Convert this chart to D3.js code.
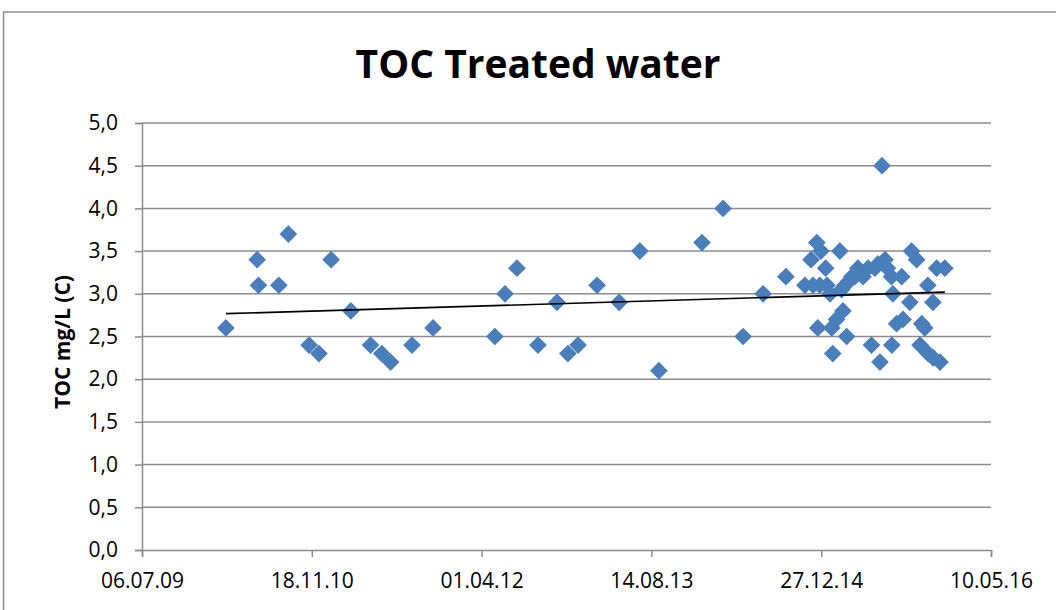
<!DOCTYPE html>
<html lang="en">
<head>
  <meta charset="utf-8">
  <script src="https://cdn.jsdelivr.net/npm/d3@7"></script>
  <style>
    body{margin:0;background:#fff;}
    text{font-family:"Open Sans","Noto Sans",sans-serif;}
  </style>
</head>
<body>
  <div id="chart"></div>
  <script>
    // sample dates and TOC values (mg/L)
    var dates=["2010-03-10","2010-06-10","2010-06-14","2010-08-13","2010-09-10","2010-11-10","2010-12-09","2011-01-14","2011-03-13","2011-05-10",
      "2011-06-12","2011-07-08","2011-09-09","2011-11-10","2012-05-10","2012-06-09","2012-07-14","2012-09-14","2012-11-09","2012-12-11",
      "2013-01-10","2013-03-07","2013-05-11","2013-07-11","2013-09-05","2014-01-10","2014-03-13","2014-05-11","2014-07-09","2014-09-14",
      "2014-11-09","2014-11-27","2014-12-14","2014-12-26","2014-12-03","2014-12-23","2015-01-13","2015-01-09","2014-12-17","2015-01-22",
      "2015-01-27","2015-01-30","2015-02-10","2015-02-20","2015-02-25","2015-03-01","2015-03-07","2015-03-12","2015-03-27","2015-04-14",
      "2015-04-05","2015-04-29","2015-05-14","2015-05-24","2015-06-03","2015-06-12","2015-06-18","2015-06-24","2015-07-03","2015-07-22",
      "2015-07-23","2015-07-26","2015-08-06","2015-08-21","2015-08-25","2015-09-14","2015-09-19","2015-10-04","2015-10-14","2015-10-19",
      "2015-10-28","2015-11-06","2015-11-07","2015-11-21","2015-11-22","2015-12-02","2015-12-12","2015-12-26","2015-03-19","2015-07-10"];
    var toc=[2.6,3.4,3.1,3.1,3.7,2.4,2.3,3.4,2.8,2.4,
      2.3,2.2,2.4,2.6,2.5,3.0,3.3,2.4,2.9,2.3,
      2.4,3.1,2.9,3.5,2.1,3.6,4.0,2.5,3.0,3.2,
      3.1,3.4,3.6,3.5,3.1,3.1,3.1,3.3,2.6,3.0,
      2.6,2.3,2.7,3.5,3.05,2.8,3.1,2.5,3.2,3.3,
      3.2,3.2,3.3,2.4,3.3,3.35,2.2,4.5,3.4,3.2,
      2.4,3.0,2.65,3.2,2.7,2.9,3.5,3.4,2.4,2.65,
      2.6,3.1,2.3,2.9,2.25,3.3,2.2,3.3,3.15,3.3];
    var xTicks=["2009-07-06","2010-11-18","2012-04-01","2013-08-14","2014-12-27","2016-05-10"];
    var yTicks=[0,0.5,1,1.5,2,2.5,3,3.5,4,4.5,5];

    var parse=d3.timeParse("%Y-%m-%d");
    var points=dates.map(function(d,i){return {date:parse(d),v:toc[i]};});

    var W=1056,H=610;
    var pLeft=142,pRight=991,pTop=123,pBottom=550;

    var svg=d3.select("#chart").append("svg").attr("width",W).attr("height",H);

    // chart frame
    svg.append("rect").attr("x",3.5).attr("y",12).attr("width",1070).attr("height",620)
      .attr("fill","none").attr("stroke","#8c8c8c").attr("stroke-width",1.5);

    var x=d3.scaleTime().domain([parse(xTicks[0]),parse(xTicks[5])]).range([pLeft,pRight]);
    var y=d3.scaleLinear().domain([0,5]).range([pBottom,pTop]);

    // gridlines
    svg.append("g").selectAll("line").data(yTicks.slice(1)).enter().append("line")
      .attr("x1",pLeft).attr("x2",pRight)
      .attr("y1",function(d){return y(d);}).attr("y2",function(d){return y(d);})
      .attr("stroke","#8c8c8c").attr("stroke-width",1.5);

    var fmt=function(d){return d3.format(".1f")(d).replace(".",",");};

    var yAxis=svg.append("g").attr("transform","translate("+pLeft+",0)")
      .call(d3.axisLeft(y).tickValues(yTicks).tickFormat(fmt).tickSize(7).tickPadding(17));
    var xAxis=svg.append("g").attr("transform","translate(0,"+pBottom+")")
      .call(d3.axisBottom(x).tickValues(xTicks.map(parse)).tickFormat(d3.timeFormat("%d.%m.%y")).tickSize(7).tickPadding(16));

    [yAxis,xAxis].forEach(function(a){
      a.selectAll("path,line").attr("stroke","#8c8c8c").attr("stroke-width",1.5);
      a.selectAll("text").attr("fill","#000");
    });
    yAxis.selectAll("text").style("font-size","21px");
    xAxis.selectAll("text")
      .style("font-family","'Liberation Sans Narrow','Open Sans',sans-serif")
      .style("font-size","21px");

    // markers
    var diamond=d3.symbol().type(d3.symbolDiamond2).size(200);
    svg.append("g").selectAll("path").data(points).enter().append("path")
      .attr("d",diamond)
      .attr("transform",function(d){return "translate("+x(d.date)+","+y(d.v)+")";})
      .attr("fill","#4a7ebb");

    // linear trendline
    var xs=points.map(function(d){return +d.date;});
    var mx=d3.mean(xs),my=d3.mean(toc);
    var sxy=d3.sum(points,function(d){return (+d.date-mx)*(d.v-my);});
    var sxx=d3.sum(xs,function(t){return (t-mx)*(t-mx);});
    var slope=sxy/sxx,icpt=my-slope*mx;
    var ext=d3.extent(xs);
    svg.append("line")
      .attr("x1",x(new Date(ext[0]))).attr("y1",y(icpt+slope*ext[0]))
      .attr("x2",x(new Date(ext[1]))).attr("y2",y(icpt+slope*ext[1]))
      .attr("stroke","#000").attr("stroke-width",1.6);

    // titles
    svg.append("text").attr("x",538).attr("y",78).attr("text-anchor","middle")
      .style("font-size","39px").style("font-weight","bold").text("TOC Treated water");
    svg.append("text").attr("transform","translate(70,342) rotate(-90)").attr("text-anchor","middle")
      .style("font-size","21px").style("font-weight","bold").text("TOC mg/L (C)");
  </script>
</body>
</html>
